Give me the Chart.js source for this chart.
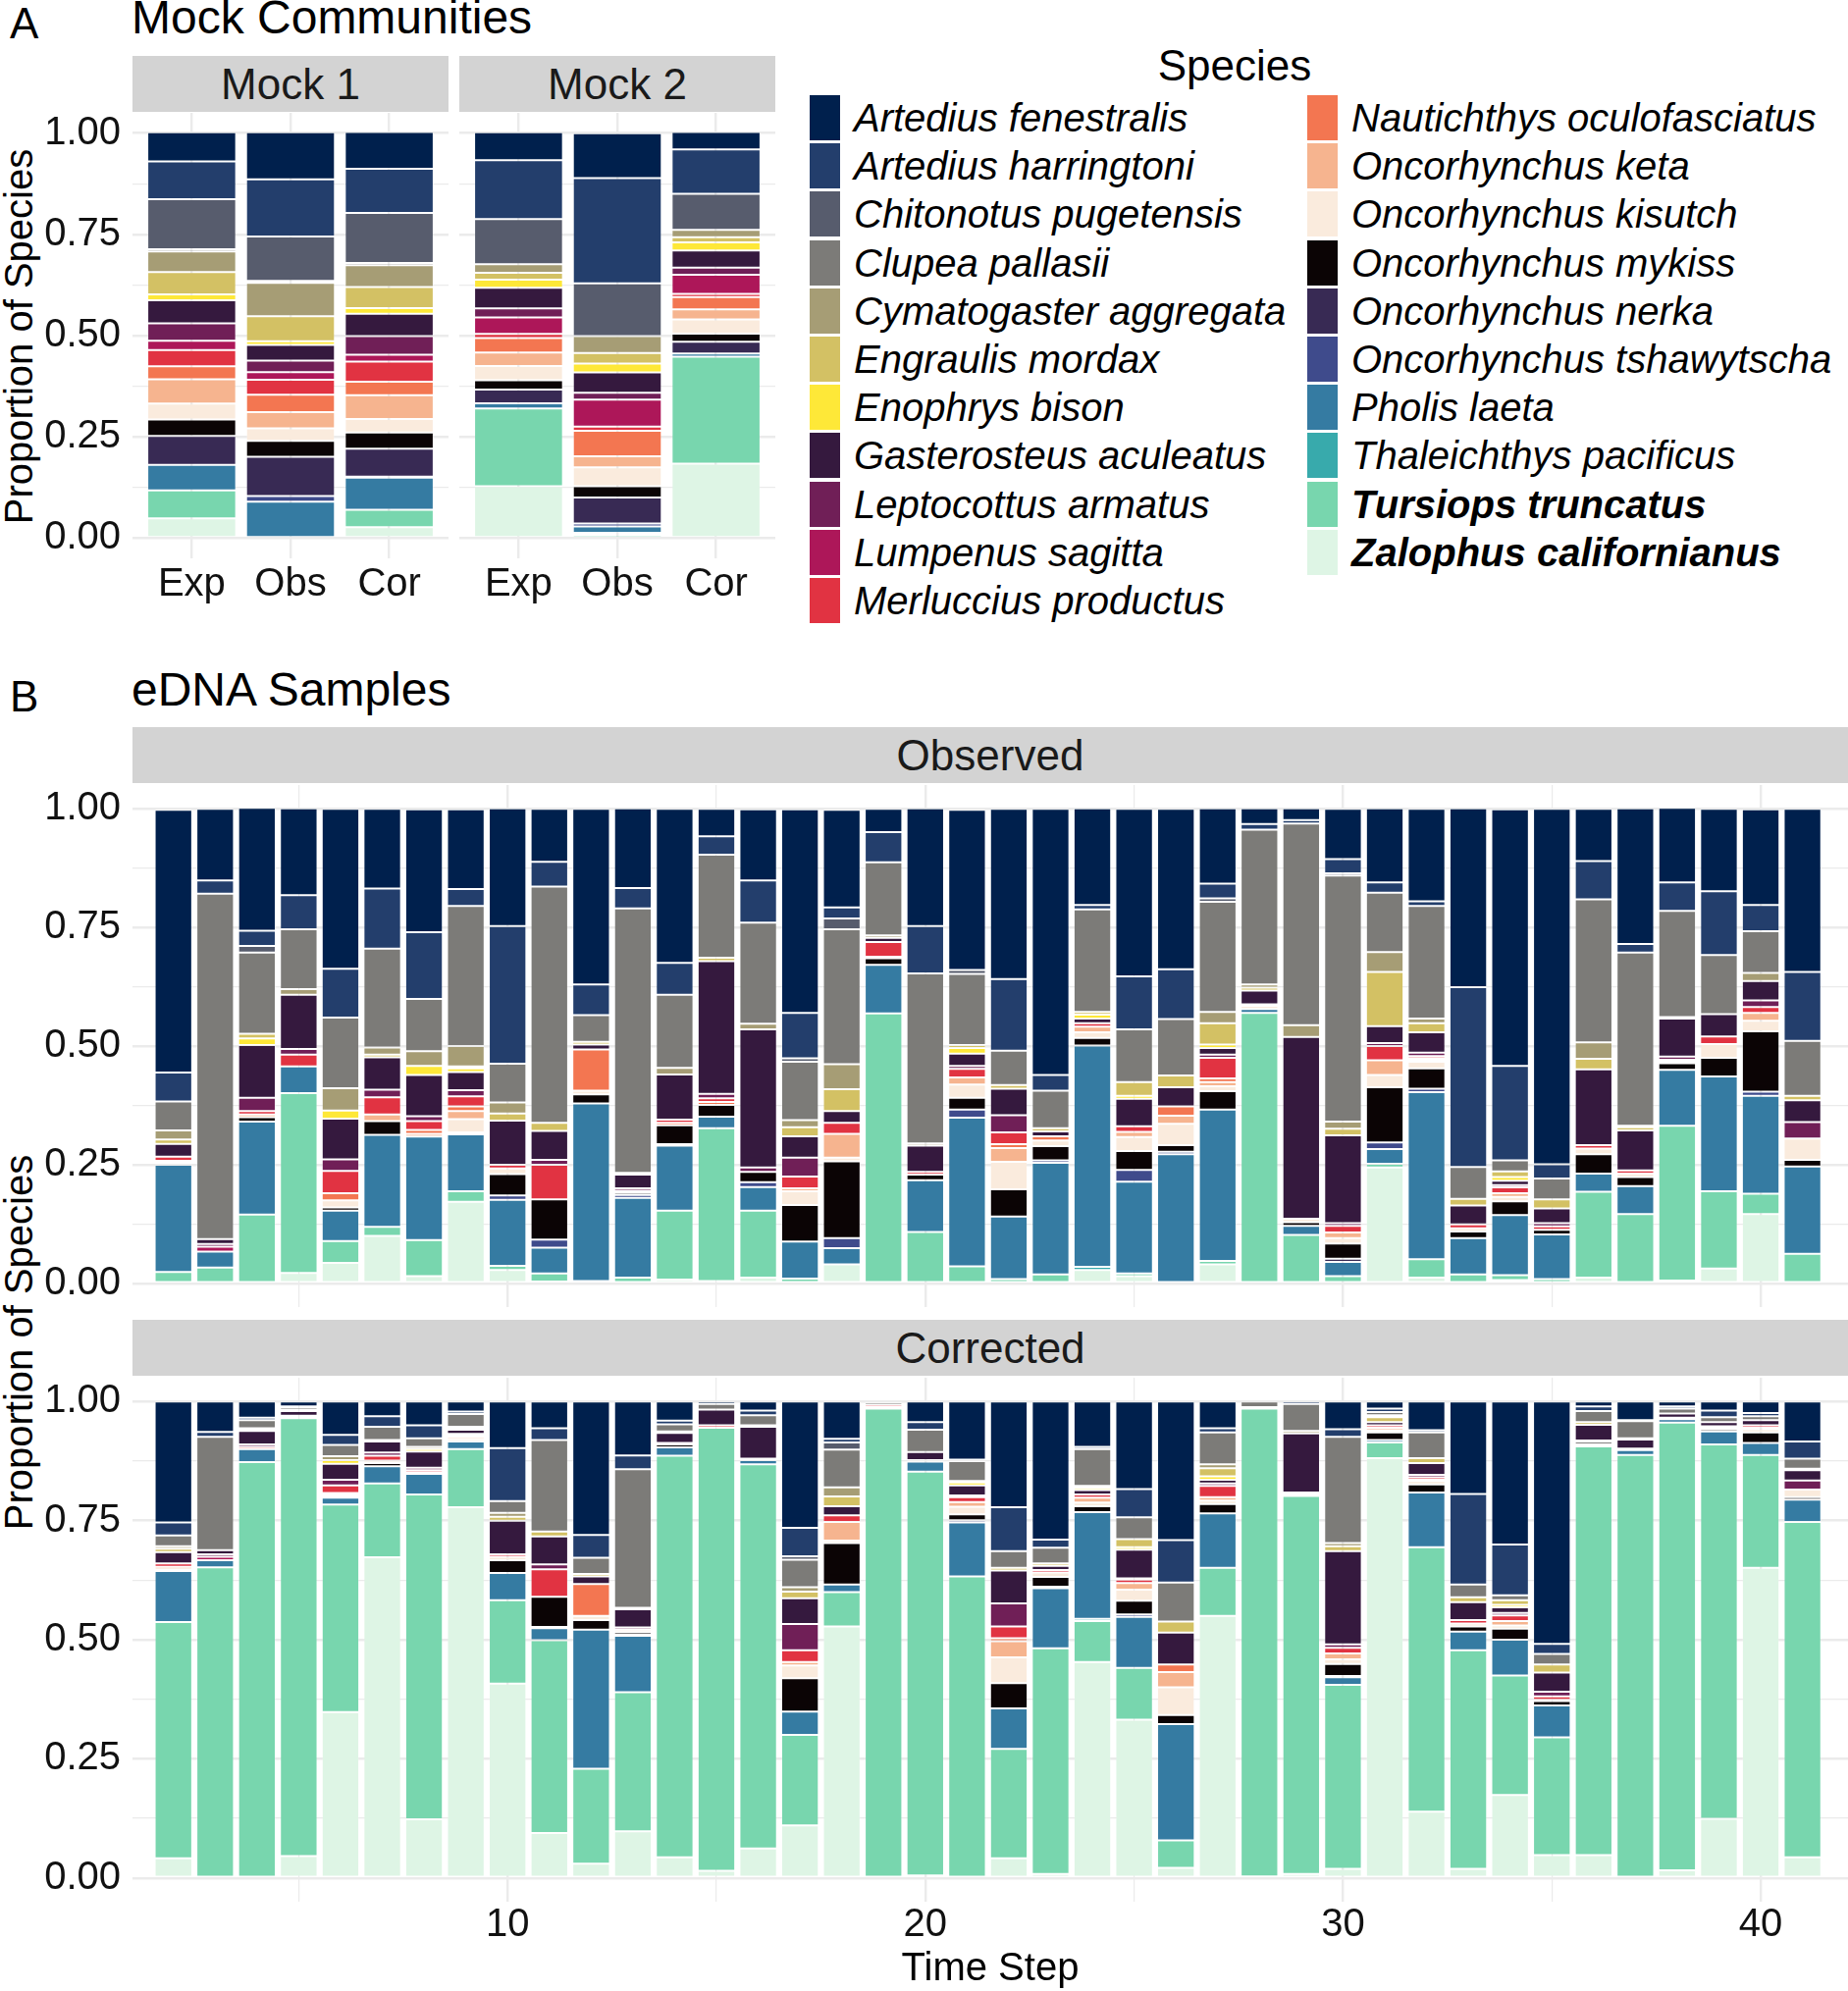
<!DOCTYPE html>
<html>
<head>
<meta charset="utf-8">
<script src="https://cdn.jsdelivr.net/npm/chart.js@4.4.1/dist/chart.umd.min.js"></script>
<style>
  body { margin: 0; width: 1883px; height: 2029px; position: relative; overflow: hidden; background: #fff;
         font-family: "Liberation Sans", Arial, sans-serif; color: #000; }
  .t { position: absolute; line-height: 1; white-space: nowrap; }
  .strip { position: absolute; background: #d3d3d3; color: #1a1a1a; font-size: 44px;
           display: flex; align-items: center; justify-content: center; }
  .ytitle { position: absolute; line-height: 1; white-space: nowrap; font-size: 40px;
            transform: translate(-50%, -50%) rotate(-90deg); }
  canvas { position: absolute; }
  .key { position: absolute; width: 31px; height: 46px; }
  .lab { position: absolute; font-size: 40px; line-height: 1; font-style: italic; white-space: nowrap; }
</style>
</head>
<body>
<div class="t" style="left:10px;top:2px;font-size:44px">A</div>
<div class="t" style="left:134px;top:-6px;font-size:48px">Mock Communities</div>
<div class="strip" style="left:135px;top:57px;width:322px;height:57px">Mock 1</div>
<div class="strip" style="left:468px;top:57px;width:322px;height:57px">Mock 2</div>
<div class="ytitle" style="left:19px;top:343px">Proportion of Species</div>
<canvas id="mock1" width="457" height="530" style="left:0;top:105px"></canvas>
<canvas id="mock2" width="322" height="530" style="left:468px;top:105px"></canvas>

<div class="t" style="left:1258px;top:45px;font-size:44px;transform:translateX(-50%)">Species</div>
<div id="legend"></div>

<div class="t" style="left:10px;top:688px;font-size:44px">B</div>
<div class="t" style="left:134px;top:679px;font-size:48px">eDNA Samples</div>
<div class="strip" style="left:135px;top:741px;width:1748px;height:57px">Observed</div>
<div class="strip" style="left:135px;top:1345px;width:1748px;height:57px">Corrected</div>
<div class="ytitle" style="left:19px;top:1368px">Proportion of Species</div>
<canvas id="observed" width="1883" height="542" style="left:0;top:790px"></canvas>
<canvas id="corrected" width="1883" height="635" style="left:0;top:1394px"></canvas>

<script>
// legend order = top of the stack first
const species = [
  'Artedius fenestralis', 'Artedius harringtoni', 'Chitonotus pugetensis', 'Clupea pallasii',
  'Cymatogaster aggregata', 'Engraulis mordax', 'Enophrys bison', 'Gasterosteus aculeatus',
  'Leptocottus armatus', 'Lumpenus sagitta', 'Merluccius productus', 'Nautichthys oculofasciatus',
  'Oncorhynchus keta', 'Oncorhynchus kisutch', 'Oncorhynchus mykiss', 'Oncorhynchus nerka',
  'Oncorhynchus tshawytscha', 'Pholis laeta', 'Thaleichthys pacificus', 'Tursiops truncatus',
  'Zalophus californianus'
];
const speciesColors = [
  '#00204d', '#233e6c', '#575c6d', '#7c7b78', '#a69d75', '#d3c164', '#fee838', '#35193e',
  '#701f57', '#ad1759', '#e13342', '#f37651', '#f6b48f', '#faebdd', '#0b0405', '#382a54',
  '#3f4b8c', '#357ba2', '#38aaac', '#78d6ae', '#def5e5'
];
const boldSpecies = ['Tursiops truncatus', 'Zalophus californianus'];

const mockSamples = ['Exp', 'Obs', 'Cor'];
const mockPositions = [1, 2, 3];
const mock1Shares = [
  [.072,.093,.124,.005,.051,.055,.015,.057,.043,.023,.040,.032,.060,.039,.041,.071,0,.063,0,.069,.049],
  [.116,.141,.110,.005,.082,.062,.009,.039,.028,.019,.037,.043,.040,.031,.039,.097,.014,.087,0,.003,0],
  [.091,.109,.124,.005,.054,.052,.014,.055,.046,.017,.050,.033,.059,.033,.040,.069,.003,.079,0,.043,.027]
];
const mock2Shares = [
  [.069,.145,.112,0,.021,.017,.020,.051,.022,.041,.010,.036,.033,.035,.023,.034,0,.013,0,.192,.128],
  [.111,.260,.130,0,.042,.026,.022,.050,.017,.067,.010,.063,.027,.047,.028,.064,.007,.016,.005,.005,.003],
  [.043,.110,.089,0,.018,.013,.020,.042,.018,.047,.008,.030,.025,.035,.020,.029,0,.008,0,.264,.184]
];

const timeSteps = [2,3,4,5,6,7,8,9,10,11,12,13,14,15,16,17,18,19,20,21,
                   22,23,24,25,26,27,28,29,30,31,32,33,34,35,36,37,38,39,40,41];
const timeTicks = [5, 10, 15, 20, 25, 30, 35, 40];
const timeLabels = [10, 20, 30, 40];

const observedShares = [
  [.554,.061,0,.061,.019,.009,0,.027,0,0,.009,0,.004,.004,0,0,0,.226,0,.024,0],
  [.151,.028,0,.728,0,0,0,.010,.006,.010,0,0,0,0,0,0,0,.034,0,.033,0],
  [.259,.032,.014,.171,0,.010,.014,.111,.028,0,.007,0,.006,0,.009,0,0,.196,0,.145,0],
  [.183,.072,0,.126,.012,0,0,.114,.012,0,.025,0,0,0,0,0,0,.056,0,.379,.022],
  [.337,.103,0,.149,.047,0,.017,.086,.024,0,.047,.015,0,.015,.007,0,0,.064,0,.046,.043],
  [.168,.127,0,.208,.015,.006,0,.068,.016,0,.036,0,.014,0,.029,0,0,.194,0,.019,.100],
  [.259,.141,0,.110,.031,0,.019,.087,.010,0,.019,.008,.006,0,0,0,0,.218,0,.076,.015],
  [.168,.036,0,.295,.043,.004,.008,.038,.013,0,.021,.010,.017,.028,.004,0,0,.120,0,.022,.172],
  [.248,.290,0,.082,.023,.015,0,.093,0,0,.008,0,0,.012,.045,0,.009,.139,0,.009,.028],
  [.112,.052,0,.498,0,.017,0,.061,.010,0,.073,0,0,0,.085,0,.017,.054,0,.017,.004],
  [.370,.065,0,.056,0,.006,0,.010,0,0,0,.087,0,.008,.019,0,0,.374,0,.005,0],
  [.168,.043,0,.557,.004,0,0,.029,.005,0,0,0,0,.004,.005,0,.006,.168,0,.012,0],
  [.325,.067,0,.154,.014,0,0,.095,0,0,.007,.005,0,0,.040,0,.003,.137,0,.145,.008],
  [.058,.039,0,.217,0,.007,0,.280,.009,0,.008,.006,0,0,.025,0,0,.024,0,.322,.005],
  [.150,.089,0,.213,.012,0,0,.291,.009,0,0,0,0,0,.022,0,.010,.050,0,.141,.012],
  [.429,.096,.007,.123,.015,.019,0,.045,.040,0,.025,0,.006,.029,.077,0,0,.078,0,.010,0],
  [.206,.023,.023,.284,.053,.046,0,.025,0,0,.023,0,.050,.008,.162,0,.021,.034,0,0,.040],
  [.049,.064,0,.154,.005,0,0,.009,0,0,.031,.003,0,0,.014,0,0,.102,0,.569,0],
  [.248,.100,0,.358,.005,0,0,.055,0,0,.006,0,0,0,.012,0,0,.109,0,.108,0],
  [.338,0,.008,.150,0,.006,.012,.026,.006,0,.018,0,.015,.028,.025,0,.017,.313,0,.036,0],
  [.359,.151,0,.072,0,.008,0,.056,.036,0,.025,.008,.029,.058,.057,0,0,.132,0,.009,0],
  [.561,.033,0,.079,0,.007,0,.010,0,0,0,.009,0,.012,.030,0,.005,.235,0,.019,0],
  [.204,.009,0,.216,0,.006,.008,.010,0,0,.007,0,.012,.012,.016,0,0,.466,.007,0,.028],
  [.353,.112,0,.111,0,.029,.006,.058,0,0,.012,0,.011,.029,.040,0,.025,.193,0,.006,.015],
  [.338,.105,0,.119,0,.025,0,.040,0,0,0,.020,.017,.045,.014,0,.005,.272,0,0,0],
  [.159,.031,.007,.232,.024,.045,.007,.014,.007,0,.043,.008,.009,.010,.039,0,0,.319,0,.007,.040],
  [.033,.012,0,.326,.007,.006,0,.029,.003,0,0,0,0,.007,0,0,0,.008,0,.570,0],
  [.025,.007,0,.425,.025,0,0,.383,0,0,0,0,0,.007,.008,0,0,.019,0,.102,0],
  [.106,.030,.005,.518,.015,.014,0,.185,.006,0,.014,0,.012,.011,.032,.007,0,.030,0,.015,0],
  [.156,.022,0,.125,.042,.114,0,.036,.006,0,.030,0,.031,.026,.116,0,.014,.031,0,.008,.244],
  [.195,.010,0,.237,.010,.019,0,.043,.007,0,.005,.004,.003,.014,.043,0,.007,.352,0,.039,.012],
  [.377,.379,0,.067,0,.014,0,.040,0,0,.008,0,0,.007,.014,0,0,.076,0,.019,0],
  [.541,.199,0,.023,0,.012,.008,.009,.005,0,.012,0,.008,.009,.029,0,0,.127,0,.010,.007],
  [.749,.030,0,.044,0,.019,0,.031,.007,0,.007,0,0,0,.010,0,0,.094,0,.009,0],
  [.110,.081,0,.301,.035,.022,0,.160,0,0,.007,0,0,.012,.041,0,0,.038,0,.181,.012],
  [.286,.018,0,.365,.003,.007,0,.084,0,0,.007,0,0,.007,.019,0,0,.059,0,.146,0],
  [.157,.060,0,.224,0,.003,0,.080,.007,0,.004,.003,0,0,.014,0,0,.118,0,.326,.006],
  [.174,.134,0,.125,0,0,0,.047,0,0,.016,0,0,.029,.039,0,0,.242,0,.163,.031],
  [.202,.055,0,.088,.017,0,0,.041,.014,0,.012,0,.017,.022,.127,0,.009,.206,0,.043,.146],
  [.344,.145,0,.116,0,.009,0,.046,.035,0,0,0,0,.045,.014,0,0,.184,0,.062,0]
];

const correctedShares = [
  [.254,.027,0,.023,.005,.007,0,.024,0,0,.007,0,.005,.004,0,0,0,.107,0,.496,.041],
  [.064,.010,0,.238,0,0,0,.009,.005,.007,0,0,0,0,0,0,0,.015,0,.652,0],
  [.034,.005,0,.017,0,.003,.003,.028,.005,0,.005,0,0,0,0,0,0,.027,0,.873,0],
  [.010,.003,0,.005,.002,0,0,.010,.002,0,.003,0,0,0,0,0,0,0,0,.919,.046],
  [.070,.021,0,.024,.008,0,.008,.033,.012,0,.016,.003,0,.004,.003,0,0,.014,0,.436,.348],
  [.031,.022,0,.028,.003,0,0,.023,.007,0,.010,0,0,.005,.007,0,0,.036,0,.155,.673],
  [.050,.027,0,.018,.005,0,.005,.034,.005,0,.005,.003,0,0,0,0,0,.043,0,.682,.123],
  [.021,.005,0,.027,.003,.003,0,.009,.003,0,.003,0,.005,.005,0,0,0,.016,0,.122,.778],
  [.098,.111,0,.025,.008,.008,0,.071,0,0,.005,0,0,.007,.027,0,0,.057,0,.175,.408],
  [.056,.025,0,.192,0,.010,0,.059,.010,0,.058,0,0,0,.063,0,.003,.025,0,.405,.094],
  [.280,.048,0,.034,0,.005,0,.016,0,0,0,.067,0,.009,.020,0,0,.292,0,.199,.030],
  [.113,.029,0,.291,.003,0,0,.038,.005,0,0,0,0,.005,.005,0,.003,.118,0,.292,.098],
  [.040,.008,0,.015,.003,0,0,.021,0,0,.003,0,0,0,.006,0,0,.018,0,.843,.043],
  [.005,0,0,.012,0,0,0,.033,0,0,.005,0,0,0,0,0,0,0,0,.930,.015],
  [.019,.010,0,.021,.003,0,0,.067,.003,0,0,0,0,0,0,0,0,.009,0,.806,.062],
  [.265,.060,.007,.058,.009,.014,0,.054,.055,0,.025,0,.007,.027,.070,0,0,.049,0,.190,.110],
  [.078,.008,.015,.079,.019,.021,0,.019,0,0,.014,0,.039,.005,.087,0,0,.016,0,.072,.528],
  [.002,0,0,.005,0,0,0,0,0,0,.005,0,0,0,0,0,0,.003,0,.985,0],
  [.043,.016,0,.047,0,0,0,.017,0,0,.003,0,0,0,0,0,0,.021,0,.848,.005],
  [.122,0,.003,.042,0,.003,.006,.021,.004,0,.010,0,.010,.016,.012,0,.005,.113,0,.633,0],
  [.222,.092,0,.035,0,.006,0,.069,.048,0,.025,.006,.034,.054,.053,0,0,.085,0,.230,.041],
  [.290,.017,0,.033,0,.005,0,.009,0,0,.005,0,0,.009,.021,0,.003,.126,0,.474,.008],
  [.095,.005,0,.077,0,.004,.005,.009,0,0,.007,0,.010,.008,.012,0,0,.224,.005,.086,.453],
  [.184,.059,0,.046,0,.017,.005,.060,.003,0,.007,0,.014,.023,.029,0,.005,.107,0,.109,.332],
  [.291,.089,0,.082,0,.023,0,.067,0,0,0,.016,.032,.058,.019,0,0,.244,0,.058,.021],
  [.056,.009,0,.067,.008,.017,.007,.008,.005,0,.024,0,.007,.007,.020,0,0,.114,0,.101,.550],
  [0,0,0,.012,0,0,0,.003,0,0,0,0,0,0,0,0,0,0,0,.982,.003],
  [0,.005,0,.057,.005,0,0,.124,0,0,0,0,0,.003,0,0,0,.004,0,.794,.008],
  [.058,.016,0,.223,.007,.010,0,.196,.007,0,.012,0,.012,.010,.025,.003,0,.016,0,.386,.019],
  [.015,.007,0,.007,.004,.010,0,.007,0,0,.005,0,.005,.005,.016,0,0,.005,0,.033,.881],
  [.060,.005,0,.054,0,.010,0,.025,.005,0,.005,0,.003,.007,.017,0,0,.115,0,.555,.139],
  [.194,.190,0,.027,0,.010,0,.038,0,0,.007,0,0,.006,.011,0,0,.039,0,.459,.019],
  [.300,.107,0,.010,0,.010,.005,.012,.005,0,.012,0,.009,.007,.023,0,0,.075,0,.251,.174],
  [.509,.021,0,.022,0,.017,0,.040,.010,0,.007,0,0,.003,.009,0,0,.067,0,.247,.048],
  [.010,.010,0,.023,0,.006,0,.033,0,0,.003,0,0,0,.005,0,0,.004,0,.858,.048],
  [.039,.002,0,.036,.003,0,0,.019,0,0,.003,0,0,0,0,0,0,.010,0,.888,0],
  [.010,.005,0,.010,0,0,0,.009,0,0,.003,0,0,0,0,0,0,.007,0,.940,.016],
  [.019,.014,0,.010,0,0,0,.009,0,0,.003,0,0,.003,.005,0,0,.027,0,.786,.124],
  [.024,.007,0,.008,0,0,0,.011,0,0,.005,0,.003,.007,.022,0,0,.025,0,.237,.651],
  [.084,.036,0,.021,0,.003,0,.022,.019,0,0,0,0,.016,.005,0,0,.047,0,.704,.043]
];

const propTicks = [0, 0.125, 0.25, 0.375, 0.5, 0.625, 0.75, 0.875, 1];

// one dataset per species; reversed so the last legend entry sits at the bottom
function stackedSets(xs, rows) {
  return species.map((name, k) => ({
    label: name,
    data: xs.map((x, i) => ({ x: x, y: rows[i][k] })),
    backgroundColor: speciesColors[k],
    borderColor: 'rgba(255,255,255,0.14)',
    borderWidth: 1,
    borderSkipped: false,
    barPercentage: 0.9,
    categoryPercentage: 1
  })).reverse();
}

// keep the plot area exactly where we put it: no label overhang padding
function noOverhang(s) {
  s.paddingTop = 0; s.paddingBottom = 0; s.paddingLeft = 0; s.paddingRight = 0;
}

function drawPanel(id, xs, rows, o) {
  const gridColor = '#ebebeb';
  return new Chart(document.getElementById(id), {
    type: 'bar',
    data: { datasets: stackedSets(xs, rows) },
    options: {
      responsive: false,
      animation: false,
      devicePixelRatio: 1,
      layout: { autoPadding: false, padding: { top: 10, left: 0, right: 0, bottom: 0 } },
      plugins: { legend: { display: false }, tooltip: { enabled: false } },
      scales: {
        x: {
          type: 'linear', stacked: true, min: o.xMin, max: o.xMax, offset: false,
          afterBuildTicks: s => { s.ticks = o.xTicks.map(v => ({ value: v })); },
          afterFit: s => { s.height = o.xHeight; noOverhang(s); },
          border: { display: false },
          grid: { color: gridColor, drawTicks: false, offset: false,
                  lineWidth: c => (o.xMajor(c.tick ? c.tick.value : 0) ? 2.4 : 1.2) },
          ticks: { display: o.showX, padding: o.xPad, color: '#111', maxRotation: 0, autoSkip: false,
                   font: { family: 'Liberation Sans', size: 40 }, callback: o.xLabel },
          title: { display: !!o.xTitle, text: o.xTitle || '', color: '#000', padding: { top: 0, bottom: -2 },
                   font: { family: 'Liberation Sans', size: 40 } }
        },
        y: {
          stacked: true, min: -0.05, max: 1.05,
          afterBuildTicks: s => { s.ticks = propTicks.map(v => ({ value: v })); },
          afterFit: s => { s.width = o.yWidth; noOverhang(s); },
          border: { display: false },
          grid: { color: gridColor, drawTicks: false, offset: false,
                  lineWidth: c => (c.tick && c.tick.value % 0.25 === 0 ? 2.4 : 1.2) },
          ticks: { display: o.showY, padding: 12, color: '#111',
                   font: { family: 'Liberation Sans', size: 40 },
                   callback: v => (v % 0.25 === 0 ? v.toFixed(2) : '') }
        }
      }
    }
  });
}

const mockOpts = {
  xMin: 0.4, xMax: 3.6, xTicks: mockPositions, xHeight: 66, xPad: 3, showX: true,
  xMajor: () => true, xLabel: v => mockSamples[mockPositions.indexOf(v)] || ''
};
drawPanel('mock1', mockPositions, mock1Shares, Object.assign({}, mockOpts, { yWidth: 135, showY: true }));
drawPanel('mock2', mockPositions, mock2Shares, Object.assign({}, mockOpts, { yWidth: 0, showY: false }));

const timeOpts = {
  xMin: 1.02, xMax: 42.09, xTicks: timeTicks, xPad: 0, yWidth: 135, showY: true,
  xMajor: v => timeLabels.includes(v), xLabel: v => (timeLabels.includes(v) ? String(v) : '')
};
drawPanel('observed', timeSteps, observedShares, Object.assign({}, timeOpts, { xHeight: 0, showX: false }));
drawPanel('corrected', timeSteps, correctedShares,
  Object.assign({}, timeOpts, { xHeight: 91, showX: true, xTitle: 'Time Step' }));

// legend, two columns
const legend = document.getElementById('legend');
species.forEach((name, i) => {
  const col = i < 11 ? 0 : 1;
  const row = i < 11 ? i : i - 11;
  const cy = 120 + row * 49.2;
  const key = document.createElement('div');
  key.className = 'key';
  key.style.left = (col ? 1332 : 825) + 'px';
  key.style.top = (cy - 23) + 'px';
  key.style.background = speciesColors[i];
  legend.appendChild(key);
  const lab = document.createElement('div');
  lab.className = 'lab';
  lab.style.left = (col ? 1377 : 870) + 'px';
  lab.style.top = (cy - 20) + 'px';
  if (boldSpecies.includes(name)) lab.style.fontWeight = 'bold';
  lab.textContent = name;
  legend.appendChild(lab);
});
</script>
</body>
</html>
